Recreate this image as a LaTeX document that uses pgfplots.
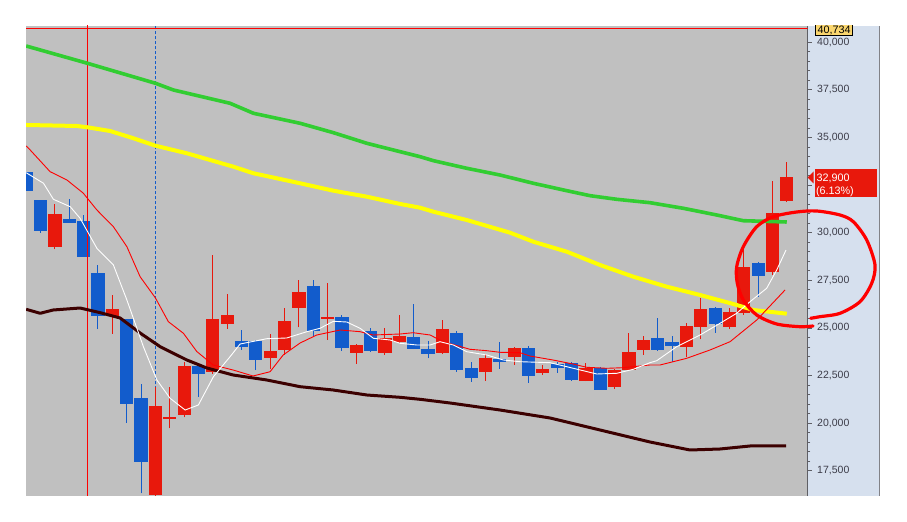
\documentclass[border=0pt]{standalone}
\usepackage{pgfplots}
\pgfplotsset{compat=1.18}
\usepackage{fontspec}
\setmainfont{Liberation Sans}
\definecolor{bggray}{RGB}{192,192,192}
\definecolor{panel}{RGB}{214,224,238}
\definecolor{panelborder}{RGB}{130,130,135}
\definecolor{axisgray}{RGB}{95,95,100}
\definecolor{ticklab}{RGB}{60,60,72}
\definecolor{candlered}{RGB}{232,24,12}
\definecolor{candleblue}{RGB}{18,92,204}
\definecolor{magreen}{RGB}{50,205,50}
\definecolor{mayellow}{RGB}{255,255,0}
\definecolor{mabrown}{RGB}{60,0,0}
\definecolor{boxyellow}{RGB}{250,214,110}
% #1 index, #2 open, #3 high, #4 low, #5 close
\newcommand{\candle}[5]{%
  \ifnum#5<#2\relax \def\cc{candleblue}\else \def\cc{candlered}\fi
  \pgfmathsetmacro\xa{#1-0.425}\pgfmathsetmacro\xb{#1+0.425}%
  \edef\doit{\noexpand\addplot[draw=\cc, line width=0.9bp, forget plot] coordinates {(#1,#4) (#1,#3)};
    \noexpand\addplot[draw=\cc, fill=\cc, line width=0.8bp, forget plot] coordinates {(\xa,#2) (\xb,#2) (\xb,#5) (\xa,#5)} -- cycle;}%
  \doit
}
\begin{document}
\begin{tikzpicture}
\begin{scope}[x=1bp,y=1bp]
\path[fill=white, use as bounding box] (0,0) rectangle (907,522);
\fill[panel] (808,26) rectangle (879,496);
\draw[panelborder, line width=1bp] (879,26) -- (879,496);
\end{scope}
\begin{axis}[at={(26bp,26bp)}, anchor=south west, scale only axis,
  width=781.7bp, height=470bp,
  xmin=-0.01, xmax=54.46, ymin=16172, ymax=40856,
  axis background/.style={fill=bggray},
  axis x line=none, axis y line*=right,
  axis line style={axisgray, line width=0.9bp},
  xtick=\empty,
  ytick={17500,20000,22500,25000,27500,30000,32500,35000,37500,40000},
  yticklabels={17{,}500,20{,}000,22{,}500,25{,}000,27{,}500,30{,}000,,35{,}000,37{,}500,40{,}000},
  minor y tick num=4,
  tick align=outside,
  major tick length=4bp, minor tick length=2.7bp,
  tick style={axisgray, line width=0.8bp},
  scaled y ticks=false,
  yticklabel style={font=\fontsize{10.5bp}{12bp}\selectfont, text=ticklab, anchor=west, xshift=2bp},
  /pgf/number format/assume math mode=true,
  clip=true]

% dashed date line (behind candles)
\addplot[candleblue, line width=0.9bp, dash pattern=on 3bp off 2bp] coordinates {(9.01,16000) (9.01,41000)};

\candle{0}{33150}{33150}{32200}{32240}
\candle{1}{31717}{31717}{30000}{30105}
\candle{2}{29265}{31507}{29128}{30982}
\candle{3}{30683}{31770}{30525}{30525}
\candle{4}{30615}{30930}{28740}{28740}
\candle{5}{27884}{28304}{24942}{25641}
\candle{6}{25641}{26728}{24696}{25993}
\candle{7}{25468}{25468}{20021}{21019}
\candle{8}{21319}{22054}{16313}{17973}
\candle{9}{16250}{21881}{16100}{20898}
\candle{10}{20230}{21880}{19727}{20320}
\candle{11}{20442}{23225}{20305}{22999}
\candle{12}{23000}{23050}{21387}{22595}
\candle{13}{22700}{28829}{22600}{25468}
\candle{14}{25221}{26781}{24958}{25678}
\candle{15}{24312}{24890}{23840}{24013}
\candle{16}{24312}{24350}{22789}{23330}
\candle{17}{23472}{24680}{22857}{23787}
\candle{18}{23892}{26030}{23577}{25363}
\candle{19}{26061}{27516}{25032}{26886}
\candle{20}{27201}{27516}{24575}{24890}
\candle{21}{25480}{27374}{24365}{25550}
\candle{22}{25573}{25678}{23787}{23960}
\candle{23}{23698}{24150}{23120}{24102}
\candle{24}{24837}{24995}{23750}{23803}
\candle{25}{23698}{24995}{23577}{24470}
\candle{26}{24276}{25678}{24200}{24575}
\candle{27}{24522}{26255}{23880}{23908}
\candle{28}{23892}{24312}{23403}{23645}
\candle{29}{23698}{25415}{23630}{24942}
\candle{30}{24732}{24837}{22700}{22842}
\candle{31}{22894}{23210}{22175}{22422}
\candle{32}{22700}{23630}{22212}{23419}
\candle{33}{23351}{24260}{22857}{23262}
\candle{34}{23488}{23990}{23050}{23945}
\candle{35}{23945}{24050}{22122}{22527}
\candle{36}{22684}{23050}{22527}{22842}
\candle{37}{23104}{23210}{22632}{22947}
\candle{38}{23141}{23200}{22212}{22317}
\candle{39}{22264}{23157}{22200}{22894}
\candle{40}{22894}{22947}{21750}{21791}
\candle{41}{21949}{22830}{21791}{22789}
\candle{42}{22842}{24732}{22800}{23735}
\candle{43}{23855}{24550}{23577}{24365}
\candle{44}{24454}{25536}{23803}{23892}
\candle{45}{24244}{24575}{23225}{24102}
\candle{46}{24050}{25273}{23488}{25100}
\candle{47}{25063}{26587}{24402}{25977}
\candle{48}{26045}{26100}{24748}{25221}
\candle{49}{25063}{26030}{24942}{25835}
\candle{50}{25820}{29265}{25700}{28162}
\candle{51}{28393}{28450}{26639}{27742}
\candle{52}{27952}{32715}{27779}{31000}
\candle{53}{31681}{33729}{31600}{32900}

% solid date line
\addplot[red, line width=0.9bp] coordinates {(4.27,16000) (4.27,41000)};

% long moving averages
\addplot[mabrown, line width=3bp, line join=round] coordinates {
(0,25977) (0.98,25767) (1.88,25940) (3.76,26045) (5.16,25799) (6.55,25520)
(7.94,24732) (9.34,24013) (11.2,23314) (12.59,22894) (14.42,22527) (16.77,22264)
(19.09,21912) (21.39,21739) (23.74,21476) (26.06,21355) (27.45,21250) (29.54,21056)
(33.02,20688) (36.51,20268) (39.99,19638) (43.47,19008) (46.26,18588) (48.35,18640)
(50.44,18798) (52.95,18798)};
\addplot[magreen, line width=3.6bp, line join=round] coordinates {
(0,39806) (4.27,38897) (9.01,37847) (10.26,37495) (14.21,36796) (15.84,36271)
(19.09,35746) (21.41,35252) (23.74,34695) (26.06,34254) (27.45,33992) (28.38,33782)
(30.7,33383) (33.02,33030) (35.34,32595) (37.67,32206) (39.29,31944) (41.15,31754)
(43.47,31576) (45.79,31282) (48.12,30930) (49.97,30630) (53.0,30562)};
\addplot[mayellow, line width=4bp, line join=round] coordinates {
(0,35657) (3.53,35604) (4.27,35536) (5.85,35341) (7.48,34958) (9.01,34569)
(11.2,34170) (14.44,33467) (15.84,33120) (19.09,32595) (21.41,32206) (23.74,31891)
(26.06,31508) (27.45,31313) (28.38,31103) (30.7,30667) (33.72,30000) (35.34,29527)
(37.67,29002) (39.99,28304) (42.31,27689) (44.64,27164) (46.96,26728) (49.28,26255)
(50.67,25940) (53.0,25746)};
% short moving averages
\addplot[red, line width=0.9bp] coordinates {
(0,34560) (0.28,34344) (1.67,33204) (2.84,32768) (3.97,32085) (4.93,31192) (6.08,30315)
(7.02,29265) (7.94,27689) (9.01,26571) (9.91,25326) (10.96,24717) (11.89,23761)
(13.03,23052) (14.42,22789) (15.81,22474) (17.0,22700) (17.91,23577) (19.09,24207)
(20.25,24627) (21.88,24890) (23.27,24801) (24.17,24627) (26.06,24680) (26.96,24748)
(28.15,24627) (29.05,24276) (30.93,23876) (32.1,23803) (33.02,23719) (34.42,23698)
(35.11,23524) (36.71,23314) (38.11,23104) (39.06,22931) (40.46,22878) (41.59,22910)
(43.47,23052) (44.17,23052) (46.03,23404) (47.65,23839) (49.05,24276) (50.91,25415)
(52.88,26991)};
\addplot[white, line width=0.9bp] coordinates {
(0,33151) (1.21,32595) (1.9,31754) (3.07,31366) (3.76,30756) (4.93,29181) (6.08,28304)
(7.02,26465) (8.17,24013) (9.11,22264) (10.03,21303) (11.08,20688) (12.0,20951)
(13.05,22437) (14.21,23488) (14.91,24155) (16.77,24433) (18.16,24470) (19.56,24801)
(20.48,24979) (21.41,25347) (22.34,25310) (23.27,24979) (24.2,24454) (25.36,24365)
(26.06,24191) (27.22,24102) (28.15,24102) (28.84,24276) (29.77,24102) (30.7,23750)
(32.1,23577) (33.25,23314) (34.42,23225) (36.51,23173) (38.13,22878) (39.76,22579)
(41.15,22616) (42.31,22826) (43.47,23173) (43.94,23278) (45.33,24013) (46.96,24627)
(48.35,25242) (49.51,25767) (50.44,26376) (51.6,27080) (52.3,28041) (52.95,29092)};

% high line
\addplot[red, line width=1bp] coordinates {(-1,40734) (60,40734)};
\end{axis}

\begin{scope}[x=1bp,y=1bp]
\begin{scope}
  \clip (808,26) rectangle (879,496);
  \draw[fill=boxyellow, draw=black, line width=0.8bp] (815.7,487) rectangle (852.7,503);
  \node[anchor=base west, inner sep=0pt, font=\fontsize{10.8bp}{12bp}\selectfont] at (817.4,488.2) {40,734};
\end{scope}
\fill[candlered] (815,325) rectangle (877,353);
\fill[candlered] (807.7,344.5) -- (813.5,350.5) -- (813.5,338.5) -- cycle;
\node[anchor=base west, inner sep=0pt, text=white, font=\fontsize{10.8bp}{12bp}\selectfont] at (816.5,340.3) {32,900};
\node[anchor=base west, inner sep=0pt, text=white, font=\fontsize{10.8bp}{12bp}\selectfont] at (815.8,327) {(6.13\%)};
\draw[red, line width=3.2bp, line cap=round, line join=round] plot[smooth] coordinates {
(810.7,203.7) (820,205.3) (840,208.7) (860,220.3) (871.7,238.7) (875,257) (866.7,282)
(853.3,300.3) (840,307) (816.7,311) (796.7,310) (773.3,305.3) (756.7,295.3) (743.3,275.3)
(736.7,255.3) (737.3,238.7) (743.3,222) (756.7,207) (776.7,198) (800,195.3) (813,196)};
\end{scope}
\end{tikzpicture}
\end{document}
